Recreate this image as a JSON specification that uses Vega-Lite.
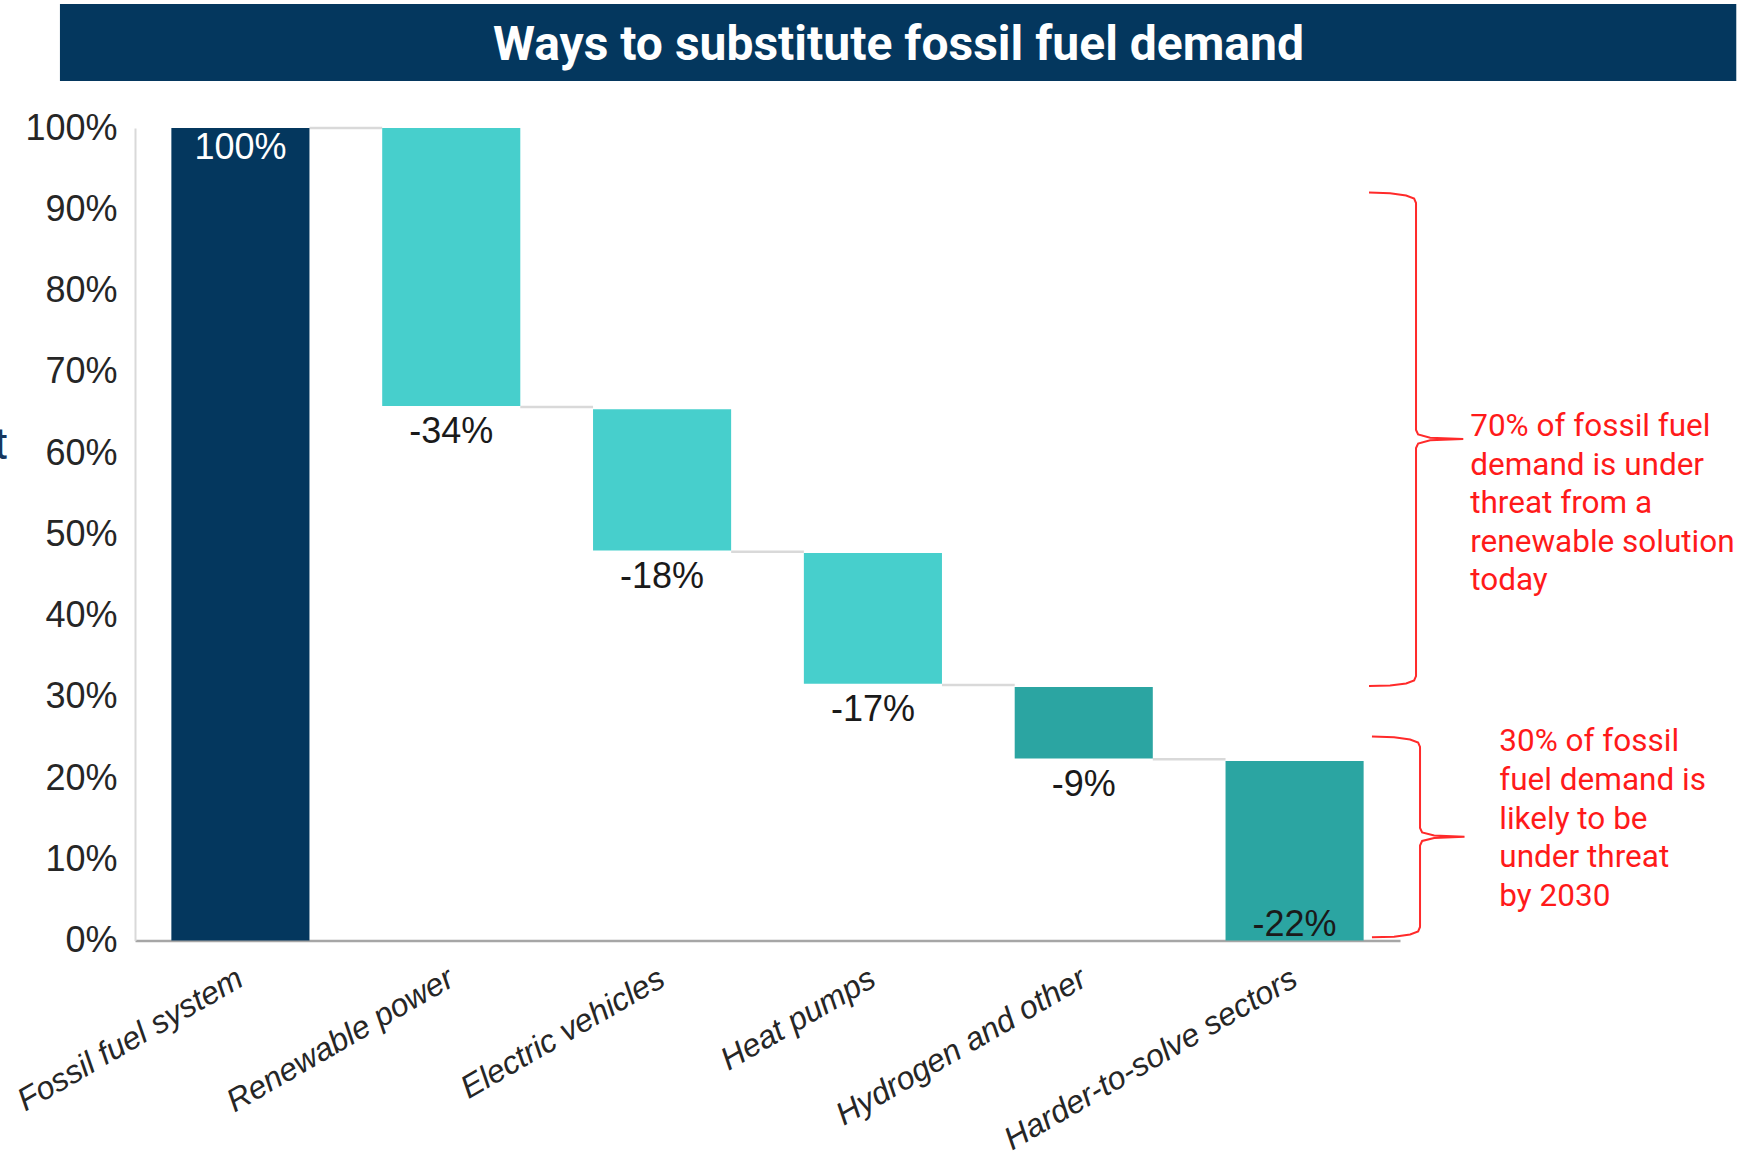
{
  "$schema": "https://vega.github.io/schema/vega-lite/v6.json",
  "width": 1265,
  "height": 812.5,
  "autosize": {"type": "none"},
  "padding": {"left": 135, "top": 128, "right": 349, "bottom": 210.5},
  "background": "white",
  "config": {
    "view": {"stroke": null},
    "axis": {"grid": false, "ticks": false, "tickSize": 0}
  },
  "datasets": {
    "bars": [
      {"cat": "Fossil fuel system", "lo": 0, "hi": 1.0, "kind": "total", "label": "100%"},
      {"cat": "Renewable power", "lo": 0.658, "hi": 1.0, "kind": "available", "label": "-34%"},
      {"cat": "Electric vehicles", "lo": 0.48, "hi": 0.654, "kind": "available", "label": "-18%"},
      {"cat": "Heat pumps", "lo": 0.316, "hi": 0.477, "kind": "available", "label": "-17%"},
      {"cat": "Hydrogen and other", "lo": 0.224, "hi": 0.312, "kind": "by2030", "label": "-9%"},
      {"cat": "Harder-to-solve sectors", "lo": 0, "hi": 0.221, "kind": "by2030", "label": "-22%"}
    ],
    "connectors": [
      {"from": "Fossil fuel system", "to": "Renewable power", "level": 1.0},
      {"from": "Renewable power", "to": "Electric vehicles", "level": 0.6566},
      {"from": "Electric vehicles", "to": "Heat pumps", "level": 0.4785},
      {"from": "Heat pumps", "to": "Hydrogen and other", "level": 0.3145},
      {"from": "Hydrogen and other", "to": "Harder-to-solve sectors", "level": 0.223}
    ],
    "braces": [
      {"brace": "upper", "ord": 1, "bx": 5.853, "by": 0.9206},
      {"brace": "upper", "ord": 2, "bx": 5.953, "by": 0.9198},
      {"brace": "upper", "ord": 3, "bx": 6.029, "by": 0.9169},
      {"brace": "upper", "ord": 4, "bx": 6.067, "by": 0.9132},
      {"brace": "upper", "ord": 5, "bx": 6.076, "by": 0.9077},
      {"brace": "upper", "ord": 6, "bx": 6.076, "by": 0.6283},
      {"brace": "upper", "ord": 7, "bx": 6.086, "by": 0.6228},
      {"brace": "upper", "ord": 8, "bx": 6.143, "by": 0.6188},
      {"brace": "upper", "ord": 9, "bx": 6.3, "by": 0.6172},
      {"brace": "upper", "ord": 10, "bx": 6.143, "by": 0.6156},
      {"brace": "upper", "ord": 11, "bx": 6.086, "by": 0.6117},
      {"brace": "upper", "ord": 12, "bx": 6.076, "by": 0.6062},
      {"brace": "upper", "ord": 13, "bx": 6.076, "by": 0.3255},
      {"brace": "upper", "ord": 14, "bx": 6.067, "by": 0.32},
      {"brace": "upper", "ord": 15, "bx": 6.029, "by": 0.3163},
      {"brace": "upper", "ord": 16, "bx": 5.953, "by": 0.3138},
      {"brace": "upper", "ord": 17, "bx": 5.853, "by": 0.3132},
      {"brace": "lower", "ord": 1, "bx": 5.867, "by": 0.2511},
      {"brace": "lower", "ord": 2, "bx": 5.972, "by": 0.2501},
      {"brace": "lower", "ord": 3, "bx": 6.048, "by": 0.2474},
      {"brace": "lower", "ord": 4, "bx": 6.086, "by": 0.2437},
      {"brace": "lower", "ord": 5, "bx": 6.095, "by": 0.2382},
      {"brace": "lower", "ord": 6, "bx": 6.095, "by": 0.1385},
      {"brace": "lower", "ord": 7, "bx": 6.105, "by": 0.1329},
      {"brace": "lower", "ord": 8, "bx": 6.162, "by": 0.1292},
      {"brace": "lower", "ord": 9, "bx": 6.306, "by": 0.1278},
      {"brace": "lower", "ord": 10, "bx": 6.162, "by": 0.1262},
      {"brace": "lower", "ord": 11, "bx": 6.105, "by": 0.1225},
      {"brace": "lower", "ord": 12, "bx": 6.095, "by": 0.1169},
      {"brace": "lower", "ord": 13, "bx": 6.095, "by": 0.0166},
      {"brace": "lower", "ord": 14, "bx": 6.086, "by": 0.0111},
      {"brace": "lower", "ord": 15, "bx": 6.048, "by": 0.0074},
      {"brace": "lower", "ord": 16, "bx": 5.972, "by": 0.0047},
      {"brace": "lower", "ord": 17, "bx": 5.867, "by": 0.0039}
    ],
    "one": [{}]
  },
  "resolve": {"scale": {"x": "independent"}, "axis": {"x": "independent"}},
  "layer": [
    {
      "layer": [
        {
          "data": {"name": "connectors"},
          "mark": {"type": "rule", "color": "#d9d9d9", "strokeWidth": 2.5},
          "encoding": {
            "x": {"field": "from", "type": "nominal", "bandPosition": 1, "title": null,
                  "scale": {"type": "band", "paddingInner": 0.345, "paddingOuter": 0.1725, "domain": ["Fossil fuel system", "Renewable power", "Electric vehicles", "Heat pumps", "Hydrogen and other", "Harder-to-solve sectors"]}},
            "x2": {"field": "to", "bandPosition": 0},
            "y": {"field": "level", "type": "quantitative", "title": null}
          }
        },
        {
          "data": {"name": "bars"},
          "mark": {"type": "bar"},
          "encoding": {
            "x": {"field": "cat", "type": "nominal", "title": null, "sort": null,
                  "scale": {"type": "band", "paddingInner": 0.345, "paddingOuter": 0.1725, "domain": ["Fossil fuel system", "Renewable power", "Electric vehicles", "Heat pumps", "Hydrogen and other", "Harder-to-solve sectors"]},
                  "axis": {"labelAngle": -30, "labelAlign": "right", "labelBaseline": "middle", "labelPadding": 35,
                           "labelFont": "Liberation Sans", "labelFontSize": 32, "labelFontStyle": "italic", "labelColor": "#262626",
                           "labelLimit": 1000, "domainColor": "#a6a6a6", "domainWidth": 2.5, "ticks": false}},
            "y": {"field": "lo", "type": "quantitative", "title": null,
                  "scale": {"domain": [0, 1], "nice": false},
                  "axis": {"values": [0, 0.1, 0.2, 0.3, 0.4, 0.5, 0.6, 0.7, 0.8, 0.9, 1.0], "format": ".0%",
                           "labelFont": "Liberation Sans", "labelFontSize": 36, "labelColor": "#262626", "labelPadding": 18,
                           "domainColor": "#d9d9d9", "domainWidth": 2, "ticks": false}},
            "y2": {"field": "hi"},
            "color": {"field": "kind", "type": "nominal", "legend": null,
                      "scale": {"domain": ["total", "available", "by2030"], "range": ["#04375e", "#47cfcc", "#2ba5a2"]}}
          }
        },
        {
          "data": {"name": "bars"},
          "transform": [{"filter": {"field": "cat", "oneOf": ["Renewable power", "Electric vehicles", "Heat pumps", "Hydrogen and other"]}}],
          "mark": {"type": "text", "font": "Liberation Sans", "fontSize": 36, "color": "#1a1a1a", "align": "center", "baseline": "alphabetic", "dy": 37},
          "encoding": {
            "x": {"field": "cat", "type": "nominal", "title": null},
            "y": {"field": "lo", "type": "quantitative", "title": null},
            "text": {"field": "label"}
          }
        },
        {
          "data": {"name": "bars"},
          "transform": [{"filter": {"field": "cat", "equal": "Fossil fuel system"}}],
          "mark": {"type": "text", "font": "Liberation Sans", "fontSize": 36, "color": "#ffffff", "align": "center", "baseline": "alphabetic", "dy": 31},
          "encoding": {
            "x": {"field": "cat", "type": "nominal", "title": null},
            "y": {"field": "hi", "type": "quantitative", "title": null},
            "text": {"field": "label"}
          }
        },
        {
          "data": {"name": "bars"},
          "transform": [{"filter": {"field": "cat", "equal": "Harder-to-solve sectors"}}],
          "mark": {"type": "text", "font": "Liberation Sans", "fontSize": 36, "color": "#1a1a1a", "align": "center", "baseline": "alphabetic", "dy": -4.5},
          "encoding": {
            "x": {"field": "cat", "type": "nominal", "title": null},
            "y": {"field": "lo", "type": "quantitative", "title": null},
            "text": {"field": "label"}
          }
        }
      ]
    },
    {
      "data": {"name": "braces"},
      "mark": {"type": "line", "color": "#ff2a2a", "strokeWidth": 2, "interpolate": "linear"},
      "encoding": {
        "x": {"field": "bx", "type": "quantitative", "axis": null, "title": null, "scale": {"domain": [0, 6], "nice": false, "zero": false}},
        "y": {"field": "by", "type": "quantitative", "title": null},
        "detail": {"field": "brace"},
        "order": {"field": "ord"}
      }
    },
    {
      "data": {"name": "one"},
      "mark": {"type": "text", "text": ["70% of fossil fuel", "demand is under", "threat from a", "renewable solution", "today"],
               "font": "Roboto", "fontSize": 31.5, "lineHeight": 38.5, "color": "#ff1a1a", "align": "left", "baseline": "alphabetic"},
      "encoding": {
        "x": {"datum": 6.333, "type": "quantitative", "axis": null, "scale": {"domain": [0, 6], "nice": false, "zero": false}},
        "y": {"datum": 0.6209, "type": "quantitative"}
      }
    },
    {
      "data": {"name": "one"},
      "mark": {"type": "text", "text": ["30% of fossil", "fuel demand is", "likely to be", "under threat", "by 2030"],
               "font": "Roboto", "fontSize": 31.5, "lineHeight": 38.8, "color": "#ff1a1a", "align": "left", "baseline": "alphabetic"},
      "encoding": {
        "x": {"datum": 6.471, "type": "quantitative", "axis": null, "scale": {"domain": [0, 6], "nice": false, "zero": false}},
        "y": {"datum": 0.2332, "type": "quantitative"}
      }
    },
    {
      "data": {"name": "one"},
      "mark": {"type": "rect", "color": "#04375e"},
      "encoding": {
        "x": {"datum": -0.356, "type": "quantitative", "axis": null, "scale": {"domain": [0, 6], "nice": false, "zero": false}},
        "x2": {"datum": 7.595},
        "y": {"datum": 1.0578, "type": "quantitative"},
        "y2": {"datum": 1.1526}
      }
    },
    {
      "data": {"name": "one"},
      "mark": {"type": "text", "text": "Ways to substitute fossil fuel demand", "font": "Roboto", "fontWeight": "bold", "fontSize": 48,
               "color": "#ffffff", "align": "center", "baseline": "alphabetic"},
      "encoding": {
        "x": {"datum": 3.621, "type": "quantitative", "axis": null, "scale": {"domain": [0, 6], "nice": false, "zero": false}},
        "y": {"datum": 1.0837, "type": "quantitative"}
      }
    },
    {
      "data": {"name": "one"},
      "mark": {"type": "text", "text": "t", "font": "Roboto", "fontSize": 44, "color": "#17375e", "align": "right", "baseline": "alphabetic"},
      "encoding": {
        "x": {"datum": -0.602, "type": "quantitative", "axis": null, "scale": {"domain": [0, 6], "nice": false, "zero": false}},
        "y": {"datum": 0.593, "type": "quantitative"}
      }
    }
  ]
}
